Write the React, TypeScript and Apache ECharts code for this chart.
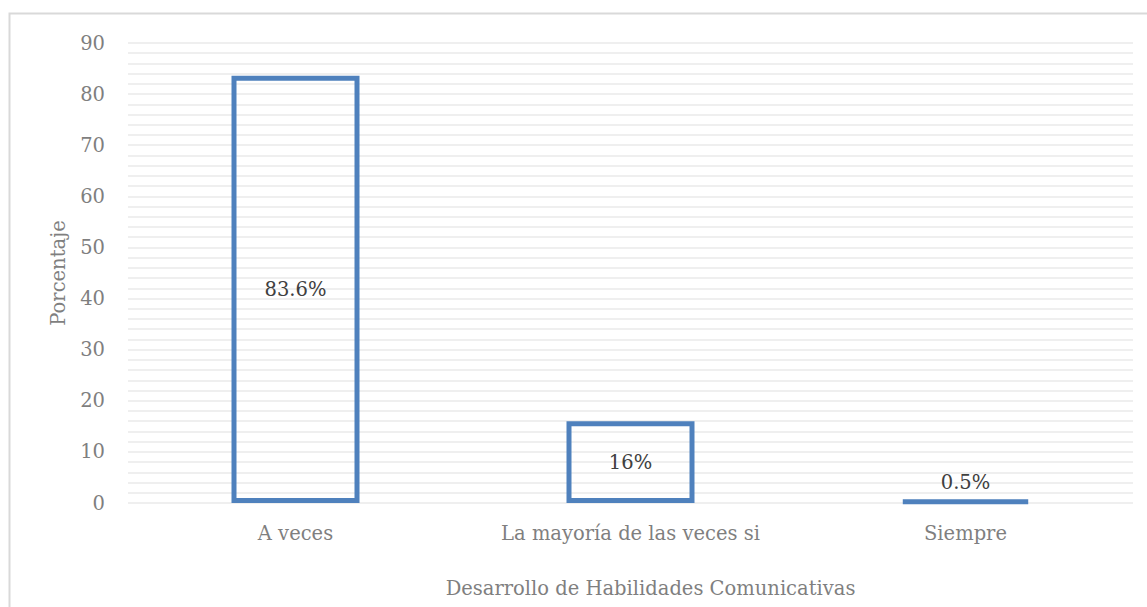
import React, { useEffect, useRef } from "react";
import * as echarts from "echarts";

const categories = ["A veces", "La mayoría de las veces si", "Siempre"];
const values = [83.6, 16, 0.5];
const valueLabels = ["83.6%", "16%", "0.5%"];
const labelPositions = ["inside", "inside", "top"];

const FONT = "'DejaVu Serif', serif";

export default function App() {
  const ref = useRef<HTMLDivElement>(null);
  useEffect(() => {
    if (!ref.current) return;
    const chart = echarts.init(ref.current, null, { renderer: "svg" });
    chart.setOption({
      animation: false,
      backgroundColor: "#ffffff",
      graphic: [
        {
          type: "rect",
          shape: { x: 9.5, y: 13.5, width: 1160, height: 620 },
          style: { fill: "none", stroke: "#d9d9d9", lineWidth: 2 },
          silent: true,
          z: -1,
        },
      ],
      grid: { left: 128, right: 14, top: 43, bottom: 104, containLabel: false },
      xAxis: {
        type: "category",
        data: categories,
        axisLine: { show: false },
        axisTick: { show: false },
        axisLabel: { color: "#7f7f7f", fontFamily: FONT, fontSize: 19.5, margin: 20, interval: 0 },
        name: "Desarrollo de Habilidades Comunicativas",
        nameLocation: "middle",
        nameGap: 75,
        nameTextStyle: { color: "#7f7f7f", fontFamily: FONT, fontSize: 19.5, padding: [0, 0, 0, 40] },
      },
      yAxis: {
        type: "value",
        min: 0,
        max: 90,
        interval: 10,
        axisLine: { show: false },
        axisTick: { show: false },
        axisLabel: { color: "#7f7f7f", fontFamily: FONT, fontSize: 19.5, margin: 23 },
        splitLine: { show: true, lineStyle: { color: "#efefef", width: 2 } },
        minorTick: { show: false, splitNumber: 5 },
        minorSplitLine: { show: true, lineStyle: { color: "#efefef", width: 2 } },
        name: "Porcentaje",
        nameLocation: "middle",
        nameGap: 60,
        nameRotate: 90,
        nameTextStyle: { color: "#7f7f7f", fontFamily: FONT, fontSize: 19.5 },
      },
      series: [
        {
          type: "bar",
          data: values.map((v, i) => ({
            value: v,
            label: { position: labelPositions[i], formatter: valueLabels[i] },
          })),
          barWidth: 128,
          itemStyle: { color: "rgba(0,0,0,0)", borderColor: "#4f81bd", borderWidth: 5 },
          label: {
            show: true,
            color: "#404040",
            fontFamily: FONT,
            fontSize: 19.5,
            distance: 7,
          },
        },
      ],
    });
    return () => chart.dispose();
  }, []);
  return (
    <div
      ref={ref}
      style={{ position: "fixed", left: 0, top: 0, width: 1147, height: 607 }}
    />
  );
}
